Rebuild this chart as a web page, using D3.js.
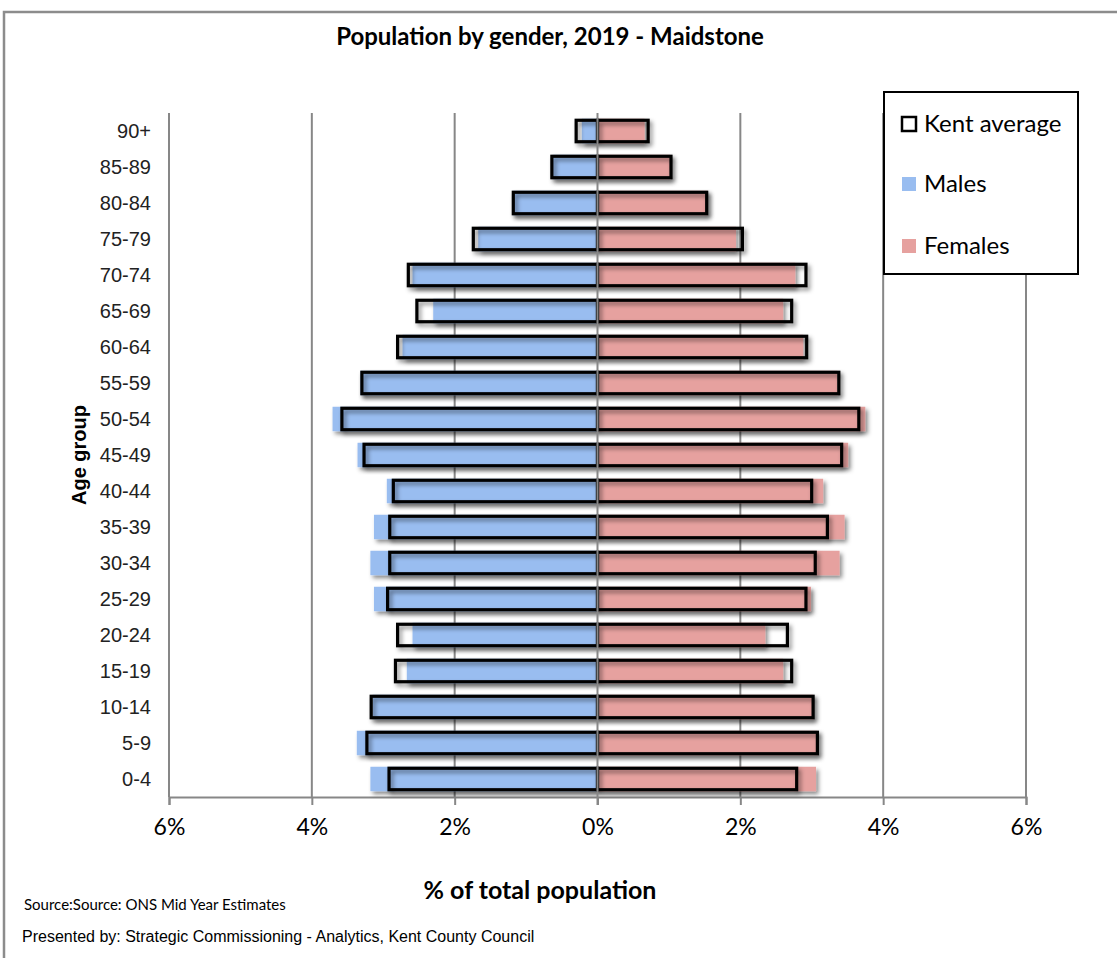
<!DOCTYPE html>
<html>
<head>
<meta charset="utf-8">
<script src="https://cdn.jsdelivr.net/npm/d3@7"></script>
<style>
  html, body { margin: 0; padding: 0; background: #fff; }
  svg { display: block; }
</style>
</head>
<body>
<svg id="chart" width="1117" height="958"></svg>
<script>
// Age bands, oldest first (top of the pyramid)
const ageGroups = ["90+", "85-89", "80-84", "75-79", "70-74", "65-69", "60-64", "55-59",
  "50-54", "45-49", "40-44", "35-39", "30-34", "25-29", "20-24", "15-19", "10-14", "5-9", "0-4"];

// Maidstone, % of total population
const males   = [0.22, 0.63, 1.19, 1.67, 2.59, 2.30, 2.73, 3.32, 3.71, 3.36, 2.95, 3.13, 3.18, 3.13, 2.59, 2.67, 3.15, 3.37, 3.18];
const females = [0.66, 1.02, 1.54, 1.94, 2.77, 2.60, 2.88, 3.36, 3.75, 3.51, 3.16, 3.46, 3.39, 2.99, 2.35, 2.60, 3.02, 3.08, 3.06];

// Kent average, % of total population
const kentMales   = [0.32, 0.66, 1.20, 1.76, 2.67, 2.55, 2.82, 3.32, 3.60, 3.29, 2.88, 2.93, 2.93, 2.96, 2.82, 2.85, 3.19, 3.25, 2.94];
const kentFemales = [0.73, 1.05, 1.55, 2.05, 2.94, 2.74, 2.95, 3.40, 3.68, 3.44, 3.02, 3.24, 3.07, 2.94, 2.68, 2.74, 3.04, 3.10, 2.81];

const xTicks = [-6, -4, -2, 0, 2, 4, 6];
const legendItems = ["Kent average", "Males", "Females"];

const svg = d3.select("#chart");
const BLUE = "#99bdf0", PINK = "#e6a19f", GRID = "#878787";

const rows = ageGroups.map((g, i) => ({
  g, m: males[i], f: females[i], km: kentMales[i], kf: kentFemales[i]
}));

// outer frame
svg.append("rect").attr("x", 4).attr("y", 12).attr("width", 1130).attr("height", 960)
  .attr("fill", "none").attr("stroke", "#8c8c8c").attr("stroke-width", 2.5);

// drop shadow
const defs = svg.append("defs");
const f = defs.append("filter").attr("id", "shadow")
  .attr("x", "-10%").attr("y", "-30%").attr("width", "120%").attr("height", "180%");
f.append("feDropShadow").attr("dx", 2.5).attr("dy", 3).attr("stdDeviation", 2)
  .attr("flood-color", "#000").attr("flood-opacity", 0.45);

const x = d3.scaleLinear().domain([-6, 6]).range([169, 1026]);
const y = d3.scaleBand().domain(ageGroups).range([113, 797]).paddingInner(0.32).paddingOuter(0.16);

// gridlines
svg.append("g").selectAll("line").data(xTicks.filter(t => t !== 0)).join("line")
  .attr("x1", d => x(d)).attr("x2", d => x(d)).attr("y1", 113).attr("y2", 797)
  .attr("stroke", GRID).attr("stroke-width", 2);

// bottom axis
const xAxis = svg.append("g").attr("transform", "translate(0,797)")
  .call(d3.axisBottom(x).tickValues(xTicks).tickSize(8).tickPadding(14)
    .tickFormat(d => Math.abs(d) + "%"));
xAxis.select(".domain").attr("stroke", GRID).attr("stroke-width", 2);
xAxis.selectAll(".tick line").attr("stroke", GRID).attr("stroke-width", 2);
xAxis.selectAll(".tick text").attr("fill", "#000")
  .style("font-family", "Lato, 'Open Sans', sans-serif").style("font-size", "23px");

// population bars
const bars = svg.append("g").attr("filter", "url(#shadow)");
bars.selectAll(".male").data(rows).join("rect").attr("class", "male")
  .attr("x", d => x(-d.m)).attr("width", d => x(0) - x(-d.m))
  .attr("y", d => y(d.g)).attr("height", y.bandwidth()).attr("fill", BLUE);
bars.selectAll(".female").data(rows).join("rect").attr("class", "female")
  .attr("x", x(0)).attr("width", d => x(d.f) - x(0))
  .attr("y", d => y(d.g)).attr("height", y.bandwidth()).attr("fill", PINK);

// Kent average outlines
const kent = svg.append("g").attr("filter", "url(#shadow)");
kent.selectAll(".km").data(rows).join("rect").attr("class", "km")
  .attr("x", d => x(-d.km) + 1.5).attr("width", d => x(0) - x(-d.km) - 1.5)
  .attr("y", d => y(d.g) + 1.5).attr("height", y.bandwidth() - 3)
  .attr("fill", "none").attr("stroke", "#000").attr("stroke-width", 3.2);
kent.selectAll(".kf").data(rows).join("rect").attr("class", "kf")
  .attr("x", x(0)).attr("width", d => x(d.kf) - x(0) - 1.5)
  .attr("y", d => y(d.g) + 1.5).attr("height", y.bandwidth() - 3)
  .attr("fill", "none").attr("stroke", "#000").attr("stroke-width", 3.2);

// centre line
svg.append("line").attr("x1", x(0)).attr("x2", x(0)).attr("y1", 113).attr("y2", 805)
  .attr("stroke", GRID).attr("stroke-width", 2);

// age labels
svg.append("g").selectAll("text").data(ageGroups).join("text")
  .attr("x", 151).attr("y", d => y(d) + y.bandwidth() / 2).attr("dy", "0.36em")
  .attr("text-anchor", "end")
  .style("font-family", "'Liberation Sans', Arial, sans-serif").style("font-size", "20px")
  .attr("fill", "#222").text(d => d);

// axis titles
svg.append("text").attr("transform", "translate(86,455) rotate(-90)")
  .attr("text-anchor", "middle")
  .style("font-family", "'Liberation Sans', Arial, sans-serif").style("font-size", "20px")
  .style("font-weight", "bold").text("Age group");
svg.append("text").attr("x", 540).attr("y", 899).attr("text-anchor", "middle")
  .style("font-family", "Lato, 'Open Sans', sans-serif").style("font-size", "25px")
  .style("font-weight", "bold").text("% of total population");

// chart title
svg.append("text").attr("x", 550).attr("y", 45).attr("text-anchor", "middle")
  .style("font-family", "Lato, 'Open Sans', sans-serif").style("font-size", "24px")
  .style("font-weight", "bold").text("Population by gender, 2019 - Maidstone");

// legend
const lg = svg.append("g");
lg.append("rect").attr("x", 884).attr("y", 92).attr("width", 194).attr("height", 182)
  .attr("fill", "#fff").attr("stroke", "#000").attr("stroke-width", 2);
const legendY = [124, 184, 246];
const swatch = [
  { fill: "#fff", stroke: "#000" }, { fill: BLUE, stroke: "none" }, { fill: PINK, stroke: "none" }
];
legendItems.forEach((name, i) => {
  lg.append("rect").attr("x", 902).attr("y", legendY[i] - 7).attr("width", 14).attr("height", 14)
    .attr("fill", swatch[i].fill).attr("stroke", swatch[i].stroke).attr("stroke-width", 2.5);
  lg.append("text").attr("x", 924).attr("y", legendY[i]).attr("dy", "0.35em")
    .style("font-family", "Lato, 'Open Sans', sans-serif").style("font-size", "24px")
    .text(name);
});

// footnotes
svg.append("text").attr("x", 24).attr("y", 910)
  .style("font-family", "Lato, 'Open Sans', sans-serif").style("font-size", "15px")
  .text("Source:Source: ONS Mid Year Estimates");
svg.append("text").attr("x", 22).attr("y", 942)
  .style("font-family", "'Liberation Sans', Arial, sans-serif").style("font-size", "16px")
  .text("Presented by: Strategic Commissioning - Analytics, Kent County Council");
</script>
</body>
</html>
